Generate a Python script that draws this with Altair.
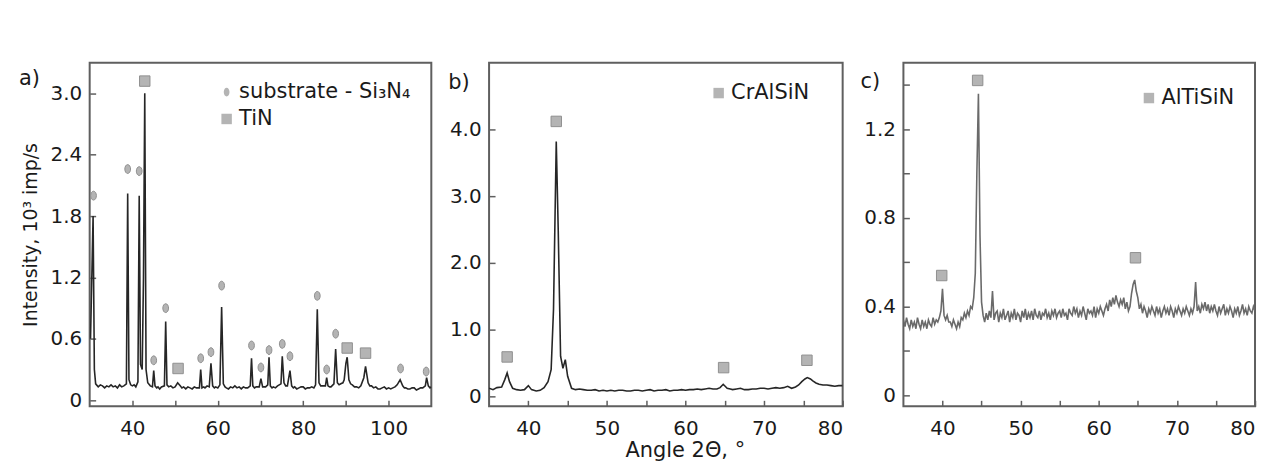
import altair as alt
import pandas as pd

FONT = "DejaVu Sans"

# ---------------- panel a) : substrate Si3N4 + TiN ----------------
a_x = [30.2, 30.8, 31.1, 31.4, 32.0, 32.5, 33.0, 33.5, 34.0, 34.5, 35.0, 35.5, 36.0, 36.5, 37.0, 37.5, 38.0,
       38.6, 38.9, 39.2, 39.6, 40.0, 40.4, 40.8, 41.3, 41.6, 41.9, 42.3, 42.6, 42.9, 43.2, 43.6, 44.2, 44.7,
       45.0, 45.3, 45.7, 46.0, 46.4, 46.8, 47.5, 47.8, 48.1, 48.5, 49.0, 49.5, 50.0, 50.6, 51.2, 51.6, 52.0,
       52.5, 53.0, 53.5, 54.0, 54.5, 55.0, 55.7, 56.0, 56.3, 56.7, 57.0, 57.5, 58.0, 58.4, 58.8, 59.2, 59.5,
       60.0, 60.5, 60.9, 61.3, 61.7, 62.0, 62.5, 63.0, 63.5, 64.0, 64.5, 65.0, 65.5, 66.0, 66.5, 67.0, 67.6,
       67.9, 68.2, 68.6, 69.0, 69.7, 70.1, 70.5, 71.2, 71.7, 72.0, 72.3, 72.7, 73.0, 73.5, 74.0, 74.8, 75.1,
       75.5, 75.9, 76.3, 76.9, 77.3, 77.7, 78.0, 78.5, 79.0, 79.5, 80.0, 80.5, 81.0, 81.5, 82.0, 82.5, 82.9,
       83.3, 83.7, 84.1, 84.5, 85.2, 85.5, 85.8, 86.2, 86.5, 87.2, 87.6, 88.0, 88.4, 88.8, 89.3, 89.6, 90.0,
       90.3, 90.7, 91.1, 91.5, 92.0, 92.5, 93.0, 93.5, 94.2, 94.6, 95.2, 95.6, 96.0, 96.5, 97.0, 97.5, 98.0,
       98.5, 99.0, 99.5, 100.0, 100.5, 101.0, 101.5, 102.0, 102.7, 103.3, 103.7, 104.0, 104.5, 105.0, 105.5,
       106.0, 106.5, 107.0, 107.5, 108.0, 108.6, 108.9, 109.3, 109.7, 110.0]
a_y = [0.60, 1.80, 0.30, 0.16, 0.13, 0.15, 0.14, 0.12, 0.14, 0.13, 0.15, 0.13, 0.14, 0.12, 0.15, 0.13, 0.14,
       0.16, 2.02, 0.20, 0.15, 0.14, 0.15, 0.13, 0.18, 2.00, 0.35, 0.30, 1.20, 3.00, 0.30, 0.17, 0.14, 0.13,
       0.29, 0.14, 0.12, 0.13, 0.11, 0.13, 0.14, 0.77, 0.15, 0.13, 0.14, 0.12, 0.13, 0.17, 0.14, 0.12, 0.13,
       0.11, 0.13, 0.12, 0.11, 0.13, 0.12, 0.12, 0.30, 0.12, 0.13, 0.12, 0.14, 0.13, 0.36, 0.14, 0.12, 0.13,
       0.12, 0.15, 0.91, 0.16, 0.13, 0.12, 0.11, 0.13, 0.12, 0.14, 0.12, 0.13, 0.11, 0.13, 0.12, 0.12, 0.14,
       0.41, 0.14, 0.12, 0.13, 0.13, 0.21, 0.13, 0.13, 0.15, 0.42, 0.14, 0.12, 0.13, 0.12, 0.14, 0.16, 0.43,
       0.17, 0.14, 0.14, 0.29, 0.14, 0.12, 0.13, 0.11, 0.12, 0.13, 0.13, 0.11, 0.12, 0.12, 0.13, 0.12, 0.15,
       0.89, 0.17, 0.14, 0.14, 0.14, 0.22, 0.14, 0.13, 0.13, 0.16, 0.50, 0.17, 0.15, 0.16, 0.17, 0.20, 0.36,
       0.42, 0.20, 0.16, 0.15, 0.13, 0.13, 0.12, 0.14, 0.22, 0.33, 0.17, 0.14, 0.14, 0.12, 0.13, 0.11, 0.11,
       0.12, 0.13, 0.11, 0.12, 0.11, 0.12, 0.13, 0.15, 0.20, 0.14, 0.12, 0.12, 0.11, 0.11, 0.12,
       0.12, 0.10, 0.11, 0.12, 0.12, 0.14, 0.22, 0.14, 0.12, 0.13]
a_mark_phase = ["substrate - Si₃N₄"] * 3 + ["TiN"] + ["substrate - Si₃N₄"] * 2 + ["TiN"] + \
               ["substrate - Si₃N₄"] * 11 + ["TiN"] * 2 + ["substrate - Si₃N₄"] * 2
a_mark_x = [30.9, 38.9, 41.6, 42.9, 45.0, 47.8, 50.7, 56.0, 58.4, 60.9, 67.9, 70.1, 72.0, 75.1, 76.9,
            83.3, 85.5, 87.6, 90.3, 94.6, 102.8, 108.8]
a_mark_y = [2.00, 2.26, 2.24, 3.12, 0.39, 0.90, 0.31, 0.41, 0.47, 1.12, 0.535, 0.32, 0.49, 0.55, 0.43,
            1.02, 0.30, 0.65, 0.51, 0.46, 0.31, 0.28]

# ---------------- panel b) : CrAlSiN ----------------
b_x = [35.0, 35.5, 36.0, 36.6, 37.0, 37.3, 37.6, 38.0, 38.5, 39.0, 39.5, 40.0, 40.4, 41.0, 41.5, 42.0,
       42.5, 42.9, 43.2, 43.55, 43.8, 44.1, 44.4, 44.7, 45.0, 45.5, 46.0, 46.5, 47.0, 47.5, 48.0, 48.5,
       49.0, 49.5, 50.0, 50.5, 51.0, 51.5, 52.0, 52.5, 53.0, 53.5, 54.0, 54.5, 55.0, 55.5, 56.0, 56.5,
       57.0, 57.5, 58.0, 58.5, 59.0, 59.5, 60.0, 60.5, 61.0, 61.5, 62.0, 62.5, 63.0, 63.5, 64.0, 64.4,
       64.8, 65.3, 65.7, 66.0, 66.5, 67.0, 67.5, 68.0, 68.5, 69.0, 69.5, 70.0, 70.5, 71.0, 71.5, 72.0,
       72.5, 73.0, 73.5, 74.0, 74.4, 74.8, 75.2, 75.5, 75.9, 76.2, 76.6, 77.0, 77.5, 78.0, 78.5, 79.0,
       79.5, 80.0]
b_y = [0.12, 0.10, 0.13, 0.14, 0.25, 0.35, 0.22, 0.12, 0.10, 0.09, 0.10, 0.16, 0.10, 0.08, 0.09, 0.13,
       0.22, 0.40, 1.30, 3.82, 2.50, 0.60, 0.42, 0.55, 0.30, 0.12, 0.10, 0.11, 0.10, 0.09, 0.09, 0.10,
       0.08, 0.09, 0.08, 0.09, 0.08, 0.09, 0.09, 0.08, 0.08, 0.09, 0.09, 0.08, 0.09, 0.10, 0.08, 0.09,
       0.09, 0.10, 0.08, 0.09, 0.09, 0.10, 0.09, 0.10, 0.10, 0.11, 0.10, 0.11, 0.12, 0.11, 0.11, 0.13,
       0.18, 0.12, 0.11, 0.10, 0.11, 0.12, 0.10, 0.10, 0.11, 0.11, 0.12, 0.12, 0.11, 0.12, 0.13, 0.12,
       0.13, 0.15, 0.12, 0.14, 0.17, 0.22, 0.26, 0.28, 0.26, 0.23, 0.20, 0.18, 0.17, 0.17, 0.16, 0.15,
       0.16, 0.16]
b_mark_phase = ["CrAlSiN"] * 4
b_mark_x = [37.3, 43.55, 64.85, 75.45]
b_mark_y = [0.59, 4.12, 0.43, 0.54]

# ---------------- panel c) : AlTiSiN ----------------
c_start, c_step = 35.0, 0.2
c_y = [0.34, 0.31, 0.35, 0.32, 0.30, 0.34, 0.31, 0.33, 0.30, 0.35,
       0.32, 0.30, 0.34, 0.31, 0.33, 0.30, 0.34, 0.32, 0.31, 0.35,
       0.32, 0.34, 0.33, 0.35, 0.38, 0.48, 0.36, 0.34, 0.36, 0.33,
       0.33, 0.31, 0.34, 0.32, 0.30, 0.33, 0.31, 0.35, 0.34, 0.37,
       0.35, 0.38, 0.36, 0.40, 0.39, 0.44, 0.55, 1.00, 1.36, 0.72,
       0.42, 0.36, 0.33, 0.37, 0.34, 0.38, 0.35, 0.47, 0.34, 0.37,
       0.38, 0.33, 0.37, 0.35, 0.39, 0.34, 0.36, 0.38, 0.33, 0.37,
       0.35, 0.39, 0.34, 0.37, 0.36, 0.33, 0.38, 0.35, 0.39, 0.34,
       0.37, 0.35, 0.38, 0.34, 0.39, 0.36, 0.35, 0.38, 0.34, 0.37,
       0.36, 0.39, 0.35, 0.37, 0.34, 0.38, 0.36, 0.39, 0.35, 0.37,
       0.38, 0.35, 0.39, 0.36, 0.37, 0.34, 0.39, 0.37, 0.36, 0.40,
       0.37, 0.39, 0.35, 0.38, 0.36, 0.40, 0.37, 0.34, 0.39, 0.37,
       0.38, 0.36, 0.40, 0.35, 0.39, 0.37, 0.40, 0.38, 0.36, 0.39,
       0.41, 0.38, 0.43, 0.40, 0.44, 0.41, 0.45, 0.42, 0.40, 0.43,
       0.41, 0.44, 0.39, 0.42, 0.38, 0.40, 0.46, 0.50, 0.52, 0.47,
       0.44, 0.39, 0.41, 0.37, 0.40, 0.38, 0.35, 0.39, 0.37, 0.40,
       0.38, 0.36, 0.40, 0.37, 0.39, 0.35, 0.38, 0.40, 0.37, 0.39,
       0.36, 0.40, 0.38, 0.35, 0.39, 0.37, 0.40, 0.38, 0.36, 0.39,
       0.37, 0.40, 0.38, 0.36, 0.39, 0.37, 0.40, 0.51, 0.38, 0.40,
       0.37, 0.41, 0.39, 0.42, 0.38, 0.41, 0.37, 0.40, 0.38, 0.41,
       0.38, 0.36, 0.40, 0.37, 0.39, 0.41, 0.36, 0.39, 0.37, 0.40,
       0.38, 0.35, 0.39, 0.37, 0.40, 0.36, 0.38, 0.41, 0.37, 0.39,
       0.36, 0.40, 0.38, 0.37, 0.40, 0.38]
c_x = [round(c_start + i * c_step, 2) for i in range(len(c_y))]
c_mark_phase = ["AlTiSiN"] * 3
c_mark_x = [39.9, 44.5, 64.7]
c_mark_y = [0.54, 1.42, 0.62]

ELLIPSE = "M0,-0.85A0.55,0.85,0,1,1,0,0.85A0.55,0.85,0,1,1,0,-0.85Z"
TXT = "#1a1a1a"
FRAME = "#5f5f5f"


def lab_expr(step, fmt):
    return (f"abs(datum.value/{step} - round(datum.value/{step})) < 0.001 ? "
            f"(datum.value == 0 ? '0' : format(datum.value, '{fmt}')) : ''")


def panel(xs, ys, mx, my, mp, phases, shapes, xdom, ydom, xvals, xstep, yvals, ystep,
          w, h, line_color, letter, letter_dx, letter_y, legend_x, legend_y, ytitle=None, xtitle=None):
    line_df = pd.DataFrame({"x": xs, "y": ys})
    mark_df = pd.DataFrame({"x": mx, "y": my, "phase": mp})
    common_axis = dict(grid=False, domain=False, tickSize=6, offset=-6, tickColor=FRAME,
                       tickWidth=1.5, labelFont=FONT, labelFontSize=20, labelColor=TXT,
                       titleFont=FONT, titleFontWeight="normal",
                       titleColor=TXT, labelOverlap=False)
    xax = alt.Axis(values=xvals, labelExpr=lab_expr(xstep, "d"), labelPadding=12, labelFlush=True,
                   title=xtitle if xtitle else None, titlePadding=1, titleFontSize=21,
                   **({"titleX": w / 2 + 19} if xtitle else {}), **common_axis)
    yax = alt.Axis(values=yvals, labelExpr=lab_expr(ystep, ".1f"), labelPadding=8, labelFlush=False,
                   title=ytitle if ytitle else None, titlePadding=10, titleFontSize=19, **common_axis)
    X = alt.X("x:Q", scale=alt.Scale(domain=xdom, nice=False, zero=False), axis=xax)
    Y = alt.Y("y:Q", scale=alt.Scale(domain=ydom, nice=False, zero=False), axis=yax)
    line = alt.Chart(line_df).mark_line(color=line_color, strokeWidth=1.6, clip=True).encode(x=X, y=Y)
    pts = alt.Chart(mark_df).mark_point(filled=True, size=110, fill="#b4b4b4", stroke="#8f8f8f",
                                        strokeWidth=1, opacity=1).encode(
        x=alt.X("x:Q"), y=alt.Y("y:Q"),
        shape=alt.Shape("phase:N", scale=alt.Scale(domain=phases, range=shapes),
                        legend=alt.Legend(title=None, orient="none", legendX=legend_x, legendY=legend_y,
                                          labelFont=FONT, labelFontSize=21, labelColor=TXT,
                                          labelLimit=400,
                                          symbolFillColor="#b4b4b4", symbolStrokeColor="#8f8f8f",
                                          symbolStrokeWidth=1, symbolSize=110, symbolOpacity=1,
                                          labelOffset=2, rowPadding=5, padding=0)))
    let_df = pd.DataFrame({"t": [letter]})
    lt = alt.Chart(let_df).mark_text(font=FONT, fontSize=21, color=TXT, align="left",
                                     baseline="middle").encode(
        text="t:N", x=alt.value(letter_dx), y=alt.value(letter_y))
    return alt.layer(line, pts, lt).properties(
        width=w, height=h, view=alt.ViewConfig(stroke=FRAME, strokeWidth=2))


pa = panel(a_x, a_y, a_mark_x, a_mark_y, a_mark_phase, ["substrate - Si₃N₄", "TiN"], [ELLIPSE, "square"],
           [30, 110], [-0.06, 3.3], [40, 50, 60, 70, 80, 90, 100], 20,
           [round(0.3 * i, 1) for i in range(11)], 0.6, 343, 345, "#262626", "a)", -71, 16, 127, 19,
           ytitle="Intensity, 10³ imp/s")
pb = panel(b_x, b_y, b_mark_x, b_mark_y, b_mark_phase, ["CrAlSiN"], ["square"],
           [35, 80], [-0.15, 5.0], [40, 45, 50, 55, 60, 65, 70, 75, 80], 10,
           [round(0.5 * i, 1) for i in range(10)], 1.0, 355, 345, "#262626", "b)", -41, 20, 220, 20,
           xtitle="Angle 2Θ, °")
pc = panel(c_x, c_y, c_mark_x, c_mark_y, c_mark_phase, ["AlTiSiN"], ["square"],
           [35, 80], [-0.05, 1.5], [40, 45, 50, 55, 60, 65, 70, 75, 80], 10,
           [round(0.2 * i, 1) for i in range(8)], 0.4, 353, 345, "#6a6a6a", "c)", -43, 19, 236, 25)

chart = alt.hconcat(pa, pb, pc, spacing=15).resolve_scale(shape="independent").properties(
    padding={"left": 10, "top": 53, "right": 0, "bottom": 0}
).configure(background="white")

chart.save("out.html", embed_options={"renderer": "svg", "actions": False})
